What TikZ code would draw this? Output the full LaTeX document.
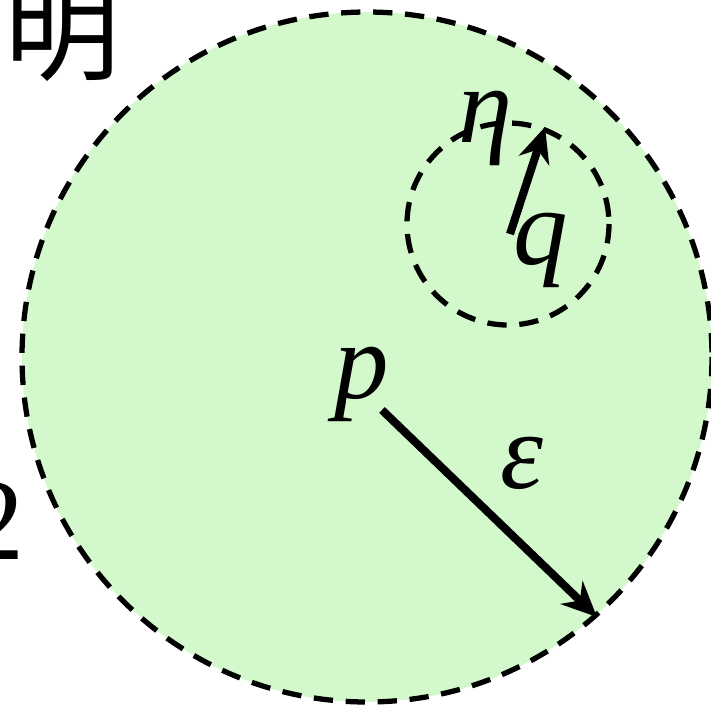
\documentclass[tikz,border=0pt]{standalone}
\usepackage{fontspec}
\setmainfont{Liberation Serif}
\newfontfamily\cjk{Noto Sans CJK SC}
\usepackage{xcolor}
\usetikzlibrary{arrows.meta, positioning, calc}
\definecolor{ballgreen}{RGB}{211,248,203}

\begin{document}
\begin{tikzpicture}[x=0.01cm, y=-0.01cm, every node/.style={font=\fontsize{31}{33}\selectfont\itshape, inner sep=0pt},
    ball/.style={draw, dashed, dash pattern=on 5.5pt off 3.6pt, line width=1.5pt},
    radius arrow/.style={-{Stealth[length=10pt, width=9pt]}, line width=2.3pt}]
    \useasboundingbox[clip] (0,0) rectangle (711,705);
    % balls around p and q
    \draw[ball, fill=ballgreen] (367,357) circle (345);
    \draw[ball] (508,224) circle (101);
    % stray text from the page
    \node[font=\cjk\fontsize{33}{35}\selectfont] (ming) at (63,30) {明};
    \node[font=\fontsize{33}{35}\selectfont] (two) at (-4,521) {2};
    % points and radii
    \coordinate (pstart) at (382,410);
    \coordinate (prim) at (597,617);
    \coordinate (qstart) at (510,234);
    \coordinate (qrim) at (545,127);
    \node (plabel) at (362,384) {p};
    \node (qlabel) at (541,250) {q};
    \node (eps) at (522,463) {ε};
    \node (eta) at (486,128) {η};
    \draw[radius arrow] (pstart) -- (prim);
    \draw[radius arrow] (qstart) -- (qrim);
\end{tikzpicture}
\end{document}
